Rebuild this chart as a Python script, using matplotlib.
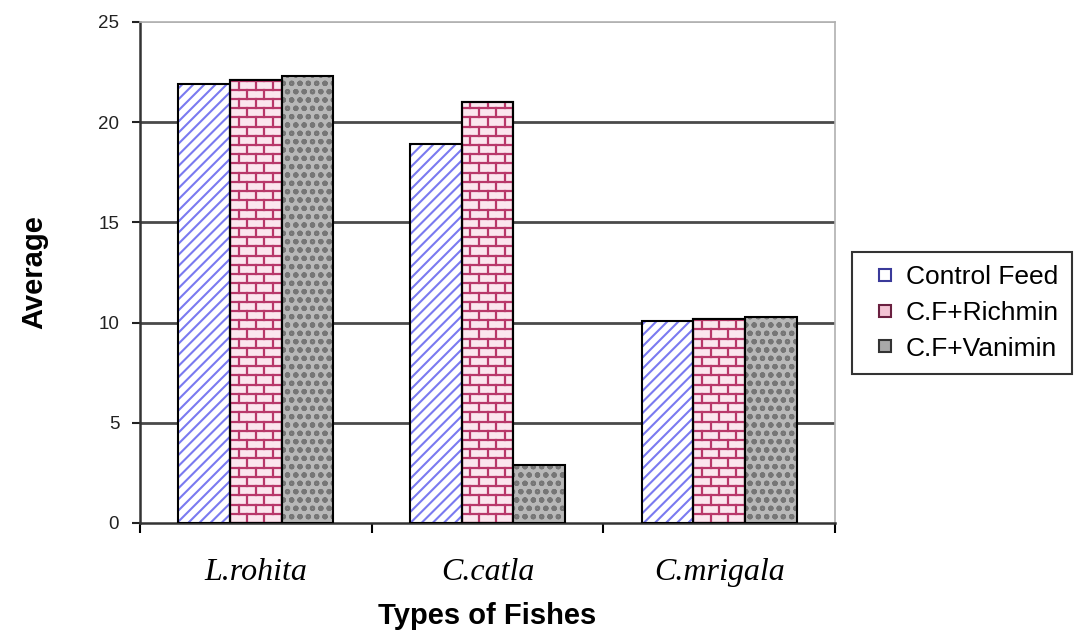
import numpy as np
import matplotlib
matplotlib.use("Agg")
import matplotlib.pyplot as plt
from matplotlib.lines import Line2D

# ---------- data ----------
fishes = ["L.rohita", "C.catla", "C.mrigala"]
series_names = ["Control Feed", "C.F+Richmin", "C.F+Vanimin"]
control_feed = [21.9, 18.9, 10.1]
richmin = [22.1, 21.0, 10.2]
vanimin = [22.3, 2.9, 10.3]
y_ticks = [0, 5, 10, 15, 20, 25]

plt.rcParams["font.family"] = ["Liberation Sans", "DejaVu Sans"]
plt.rcParams["hatch.linewidth"] = 1.5

fig = plt.figure(figsize=(10.84, 6.34), dpi=100)
ax = fig.add_axes([0.1292, 0.1751, 0.6411, 0.7902])

x = np.arange(len(fishes))
bw = 0.223

# gridlines (behind bars)
for v in y_ticks[1:-1]:
    ax.axhline(v, color="#4a4a4a", lw=2.0, zorder=0)
ax.axhline(y_ticks[-1], color="#b0b0b0", lw=1.2, zorder=0)

# Control Feed: blue diagonal stripes
ax.bar(x - bw, control_feed, bw, color="white", edgecolor="#7a7af0",
       hatch="///", lw=0, zorder=2)
ax.bar(x - bw, control_feed, bw, color="none", edgecolor="black", lw=1.5, zorder=4)

# Richmin: brick pattern
b2 = ax.bar(x, richmin, bw, color="#fbe6ee", edgecolor="black", lw=1.5, zorder=2)
row_h = 0.46
brick_w = bw / 3.0
for rect in b2:
    x0 = rect.get_x()
    h = rect.get_height()
    n_rows = int(h / row_h) + 1
    for r in range(n_rows):
        y0 = r * row_h
        ln = ax.plot([x0, x0 + bw], [y0, y0], color="#b8386a", lw=1.6, zorder=3)[0]
        ln.set_clip_path(rect)
        off = 0 if r % 2 == 0 else brick_w / 2
        for k in range(5):
            xv = x0 + off + k * brick_w
            vl = ax.plot([xv, xv], [y0, y0 + row_h], color="#b8386a", lw=1.6, zorder=3)[0]
            vl.set_clip_path(rect)
ax.bar(x, richmin, bw, color="none", edgecolor="black", lw=1.5, zorder=4)

# Vanimin: gray granite-like texture
ax.bar(x + bw, vanimin, bw, color="#b8b8b8", edgecolor="#767676",
       hatch="oo", lw=0, zorder=2)
ax.bar(x + bw, vanimin, bw, color="none", edgecolor="black", lw=1.5, zorder=4)

ax.set_xlim(-0.5, len(fishes) - 0.5)
ax.set_ylim(0, 25)
ax.set_yticks(y_ticks)
ax.tick_params(axis="y", labelsize=13.5, length=6, width=1.5, direction="out",
               pad=9, colors="#222222")

ax.set_xticks(np.arange(len(fishes) + 1) - 0.5)
ax.set_xticklabels([])
ax.tick_params(axis="x", which="major", length=7, width=1.5)
ax.set_xticks(x, minor=True)
ax.set_xticklabels(fishes, minor=True, fontsize=23, style="italic",
                   family="Liberation Serif")
ax.tick_params(axis="x", which="minor", length=0, pad=25)

ax.spines["left"].set_color("#333333")
ax.spines["left"].set_linewidth(1.8)
ax.spines["bottom"].set_color("#333333")
ax.spines["bottom"].set_linewidth(1.8)
ax.spines["top"].set_color("#b0b0b0")
ax.spines["top"].set_linewidth(1.2)
ax.spines["right"].set_color("#b0b0b0")
ax.spines["right"].set_linewidth(1.2)

ax.set_xlabel("Types of Fishes", fontsize=21, fontweight="bold", labelpad=11)
ax.set_ylabel("Average", fontsize=21, fontweight="bold", labelpad=36)

handles = [
    Line2D([], [], ls="none", marker="s", markersize=8,
           markerfacecolor="white", markeredgecolor="#3a3a9a", markeredgewidth=1.5),
    Line2D([], [], ls="none", marker="s", markersize=8,
           markerfacecolor="#f3c4d4", markeredgecolor="#6a2040", markeredgewidth=1.5),
    Line2D([], [], ls="none", marker="s", markersize=8,
           markerfacecolor="#a9a9a9", markeredgecolor="#333333", markeredgewidth=1.5),
]
leg = fig.legend(handles, series_names, loc="upper left",
                 bbox_to_anchor=(0.786, 0.603), fontsize=19,
                 frameon=True, fancybox=False, edgecolor="black",
                 handlelength=1.5, handletextpad=0.05,
                 labelspacing=0.45, borderpad=0.5, borderaxespad=0)
leg.get_frame().set_linewidth(1.5)

fig.savefig("out.png", dpi=100)
